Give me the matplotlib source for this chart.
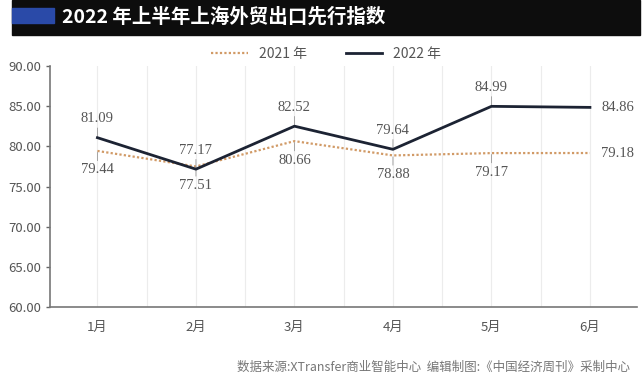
import matplotlib.pyplot as plt
from matplotlib.patches import Rectangle
from matplotlib.ticker import MultipleLocator, FormatStrFormatter

plt.rcParams['font.family'] = ['Noto Sans CJK SC', 'DejaVu Sans']

months = ["1月", "2月", "3月", "4月", "5月", "6月"]
y2021 = [79.44, 77.51, 80.66, 78.88, 79.17, 79.18]
y2022 = [81.09, 77.17, 82.52, 79.64, 84.99, 84.86]

c2021 = "#d19a66"
c2022 = "#1c2333"
grey = "#555555"

fig = plt.figure(figsize=(6.43, 3.82), dpi=100)
ax = fig.add_axes([0.078, 0.196, 0.913, 0.631])

# title bar
fig.patches.append(Rectangle((12 / 643, 1 - 35 / 382), 628 / 643, 35 / 382,
                             transform=fig.transFigure, color="#0d0d0d", zorder=0))
fig.patches.append(Rectangle((12 / 643, 1 - 23 / 382), 42 / 643, 15 / 382,
                             transform=fig.transFigure, color="#2a4aa8", zorder=1))
fig.text(62 / 643, 1 - 17 / 382, "2022 年上半年上海外贸出口先行指数", color="white",
         fontsize=14, fontweight="bold", va="center", ha="left")

x = list(range(len(months)))
ax.plot(x, y2021, color=c2021, lw=1.6, ls=(0, (1, 1)), label="2021 年", zorder=3)
ax.plot(x, y2022, color=c2022, lw=2.0, label="2022 年", zorder=4)

serif = dict(family="Liberation Serif", fontsize=10.5, color=grey)
for i in x:
    if i == 5:
        ax.annotate(f"{y2022[i]:.2f}", (i, y2022[i]), xytext=(8, 0), textcoords="offset points",
                    ha="left", va="center", **serif)
        ax.annotate(f"{y2021[i]:.2f}", (i, y2021[i]), xytext=(8, 0), textcoords="offset points",
                    ha="left", va="center", **serif)
        continue
    ax.annotate(f"{y2022[i]:.2f}", (i, y2022[i]), xytext=(0, 9), textcoords="offset points",
                ha="center", va="bottom", **serif,
                arrowprops=dict(arrowstyle="-", color="#999999", lw=0.6, shrinkA=0, shrinkB=1))
    ax.annotate(f"{y2021[i]:.2f}", (i, y2021[i]), xytext=(0, -9), textcoords="offset points",
                ha="center", va="top", **serif,
                arrowprops=dict(arrowstyle="-", color="#999999", lw=0.6, shrinkA=0, shrinkB=1))

ax.set_xlim(-0.48, 5.48)
ax.set_ylim(60, 90)
ax.yaxis.set_major_locator(MultipleLocator(5))
ax.yaxis.set_major_formatter(FormatStrFormatter("%.2f"))
ax.set_xticks(x)
ax.set_xticklabels(months)
ax.xaxis.set_minor_locator(MultipleLocator(0.5))
ax.grid(axis="x", which="both", color="#ececec", lw=0.8)
ax.tick_params(axis="x", which="both", length=0, labelsize=9.5, labelcolor=grey, pad=10)
ax.tick_params(axis="y", length=3, width=1, color="#666666", labelsize=9.5, labelcolor=grey)
for s in ["top", "right"]:
    ax.spines[s].set_visible(False)
for s in ["left", "bottom"]:
    ax.spines[s].set_color("#777777")
    ax.spines[s].set_linewidth(1.2)

ax.legend(loc="lower center", bbox_to_anchor=(0.47, 0.97), ncol=2, frameon=False,
          fontsize=10, labelcolor=grey, handlelength=2.6, columnspacing=2.8)

fig.text(630 / 643, 1 - 367 / 382,
         "数据来源:XTransfer商业智能中心  编辑制图:《中国经济周刊》采制中心",
         fontsize=9, color="#777777", ha="right", va="center")

fig.savefig("out.png", dpi=100, facecolor="white")
